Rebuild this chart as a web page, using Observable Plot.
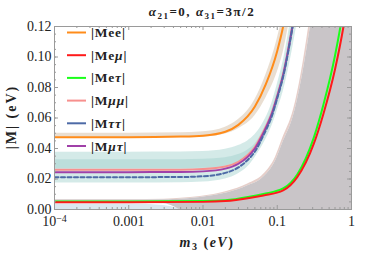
<!DOCTYPE html>
<html><head><meta charset="utf-8">
<script src="https://cdn.jsdelivr.net/npm/d3@7"></script>
<script src="https://cdn.jsdelivr.net/npm/@observablehq/plot@0.6"></script>
<style>body{margin:0;background:#fff} svg{display:block}</style>
</head><body><div id="chart"></div>
<script>
// ---------- data ----------
// |Mee| (orange) and its band
const meeM3  = [1e-4, 1e-3, 0.005, 0.01, 0.02, 0.03, 0.05, 0.07, 0.1, 0.12, 0.15];
const meeVal = [0.0474, 0.0474, 0.0478, 0.0484, 0.051, 0.0555, 0.0675, 0.082, 0.104, 0.12, 0.148];
const meeLo  = [0.0466, 0.0466, 0.047, 0.0474, 0.0495, 0.053, 0.0615, 0.073, 0.09, 0.103, 0.127];
const meeHi  = [0.0500, 0.0500, 0.0503, 0.051, 0.054, 0.059, 0.072, 0.088, 0.112, 0.129, 0.16];

// |Meμ| (red) and |Meτ| (green)
const eM3      = [1e-4, 1e-3, 0.01, 0.02, 0.044, 0.065, 0.12, 0.186, 0.31, 0.42, 0.6, 0.78, 1];
const meMuVal  = [0.0048, 0.0048, 0.005, 0.0055, 0.0077, 0.0092, 0.0125, 0.0212, 0.043, 0.063, 0.092, 0.12, 0.155];
const meTauVal = [0.0053, 0.0053, 0.0055, 0.006, 0.0085, 0.0102, 0.0138, 0.023, 0.047, 0.069, 0.101, 0.132, 0.17];

// |Mμμ| (pink), |Mττ| (blue dashed), |Mμτ| (purple) and their bands
const mM3      = [1e-4, 1e-3, 0.005, 0.01, 0.02, 0.03, 0.04, 0.05, 0.065, 0.085, 0.1, 0.12, 0.16, 0.2, 0.3];
const mmuVal   = [0.026, 0.026, 0.0261, 0.0265, 0.0282, 0.0313, 0.0357, 0.041, 0.051, 0.0635, 0.0745, 0.0885, 0.12, 0.15, 0.22];
const mtautau  = [0.0212, 0.0212, 0.0213, 0.0218, 0.024, 0.0276, 0.0325, 0.038, 0.0485, 0.0615, 0.073, 0.087, 0.119, 0.149, 0.22];
const mmutau   = [0.0245, 0.0245, 0.0246, 0.025, 0.0268, 0.030, 0.0345, 0.040, 0.050, 0.063, 0.074, 0.088, 0.12, 0.15, 0.22];
const bandALo  = [0.0173, 0.0173, 0.0175, 0.018, 0.020, 0.0235, 0.028, 0.034, 0.043, 0.055, 0.065, 0.077, 0.105, 0.132, 0.194];
const bandAHi  = [0.0326, 0.0326, 0.0327, 0.033, 0.034, 0.036, 0.039, 0.043, 0.052, 0.0655, 0.077, 0.0915, 0.125, 0.156, 0.229];
const bandBLo  = [0.0267, 0.0267, 0.0268, 0.027, 0.0285, 0.031, 0.0345, 0.039, 0.0485, 0.061, 0.072, 0.085, 0.116, 0.146, 0.213];
const bandBHi  = [0.0376, 0.0376, 0.0377, 0.038, 0.0395, 0.042, 0.045, 0.049, 0.057, 0.070, 0.082, 0.097, 0.132, 0.165, 0.242];

// grey band (|Meμ|, |Meτ| range) and its thin pinkish rim
const gM3    = [1e-4, 1e-3, 0.003, 0.004, 0.005, 0.0092, 0.0214, 0.04, 0.065, 0.095, 0.117, 0.166, 0.28, 0.5, 1];
const grayLo = [0.0042, 0.0042, 0.0038, 0.002, 0, 0, 0, 0, 0, 0, 0, 0, 0, 0, 0];
const grayHi = [0.0062, 0.0062, 0.0064, 0.0066, 0.0068, 0.0079, 0.011, 0.0155, 0.0212, 0.032, 0.043, 0.0616, 0.12, 0.22, 0.45];
const rimHi  = [0.0066, 0.0066, 0.0068, 0.007, 0.0073, 0.0085, 0.012, 0.0168, 0.023, 0.0345, 0.046, 0.0655, 0.128, 0.235, 0.48];

// light blue band near zero
const lbM3 = [1e-4, 1e-3, 0.0029, 0.004, 0.0053];
const lbHi = [0.0036, 0.0036, 0.0027, 0.0015, 0];

// axes
const xMajor = [1e-4, 1e-3, 1e-2, 1e-1, 1];
const xLabels = ["10", "0.001", "0.01", "0.1", "1"];
const yMajor = [0, 0.02, 0.04, 0.06, 0.08, 0.10, 0.12];
const yLabels = ["0.00", "0.02", "0.04", "0.06", "0.08", "0.10", "0.12"];
const xMinor = [2,3,4,5,6,7,8,9].flatMap(k => [1e-4, 1e-3, 1e-2, 1e-1].map(e => k * e));
const yMinor = d3.range(0, 0.1201, 0.005);

// legend
const legendNames = [["|Me","e","|"], ["|Me","μ","|"], ["|Me","τ","|"], ["|M","μμ","|"], ["|M","ττ","|"], ["|M","μτ","|"]];
const legendColors = ["#ff8c1a", "#ff1a1a", "#1aff1a", "#f7908e", "#4d6aa6", "#a040a8"];

// ---------- build tables ----------
const zip = (xs, cols) => xs.map((m, i) => Object.fromEntries([["m", m], ...Object.entries(cols).map(([k, a]) => [k, a[i]])]));
const mee = zip(meeM3, {v: meeVal, lo: meeLo, hi: meeHi});
const eLines = zip(eM3, {mu: meMuVal, tau: meTauVal});
const mLines = zip(mM3, {mm: mmuVal, tt: mtautau, mt: mmutau, aLo: bandALo, aHi: bandAHi, bLo: bandBLo, bHi: bandBHi});
const gray = zip(gM3, {lo: grayLo, hi: grayHi, rim: rimHi});
const lb = zip(lbM3, {hi: lbHi});

const serif = "'Liberation Serif', 'Times New Roman', serif";
const curve = "monotone-x";
const W = 374, H = 254, ML = 54, MR = 23, MT = 26, MB = 45;
const fw = W - ML - MR, fh = H - MT - MB;
const tickC = "#9a9a9a";

const svg = Plot.plot({
  width: W, height: H,
  marginLeft: ML, marginRight: MR, marginTop: MT, marginBottom: MB,
  style: {fontFamily: serif, fontSize: "14px", background: "#fff"},
  x: {type: "log", domain: [1e-4, 1]},
  y: {domain: [0, 0.12]},
  marks: [
    Plot.areaY(lb, {x: "m", y1: 0, y2: "hi", fill: "#dbe7ef", curve, clip: true}),
    Plot.areaY(gray, {x: "m", y1: "hi", y2: "rim", fill: "#e6cfca", curve, clip: true}),
    Plot.areaY(gray, {x: "m", y1: "lo", y2: "hi", fill: "#c9c5c8", curve, clip: true}),
    Plot.areaY(mLines, {x: "m", y1: "aLo", y2: "aHi", fill: "#9fd0cb", fillOpacity: 0.45, curve, clip: true}),
    Plot.areaY(mLines, {x: "m", y1: "bLo", y2: "bHi", fill: "#9fd0cb", fillOpacity: 0.45, curve, clip: true}),
    Plot.areaY(mee, {x: "m", y1: "lo", y2: "hi", fill: "#e3d6c6", fillOpacity: 0.8, curve, clip: true}),
    Plot.line(mLines, {x: "m", y: "mm", stroke: legendColors[3], strokeWidth: 2, curve, clip: true}),
    Plot.line(mLines, {x: "m", y: "mt", stroke: legendColors[5], strokeWidth: 2, curve, clip: true}),
    Plot.line(mLines, {x: "m", y: "tt", stroke: legendColors[4], strokeWidth: 2, strokeDasharray: "4,2.5", curve, clip: true}),
    Plot.line(mee, {x: "m", y: "v", stroke: legendColors[0], strokeWidth: 2, curve, clip: true}),
    Plot.line(eLines, {x: "m", y: "tau", stroke: legendColors[2], strokeWidth: 2, curve, clip: true}),
    Plot.line(eLines, {x: "m", y: "mu", stroke: legendColors[1], strokeWidth: 2, curve, clip: true}),
    Plot.frame({stroke: tickC}),
    // inward ticks (no text)
    Plot.ruleX(xMajor, {x: d => d, insetTop: fh - 4, stroke: tickC}),
    Plot.ruleX(xMinor, {x: d => d, insetTop: fh - 2, stroke: tickC}),
    Plot.ruleX(xMajor, {x: d => d, insetBottom: fh - 4, stroke: tickC}),
    Plot.ruleX(xMinor, {x: d => d, insetBottom: fh - 2, stroke: tickC}),
    Plot.ruleY(yMajor, {y: d => d, insetRight: fw - 4, stroke: tickC}),
    Plot.ruleY(yMinor, {y: d => d, insetRight: fw - 2, stroke: tickC}),
    Plot.ruleY(yMajor, {y: d => d, insetLeft: fw - 4, stroke: tickC}),
    Plot.ruleY(yMinor, {y: d => d, insetLeft: fw - 2, stroke: tickC}),
    // tick labels
    Plot.axisX(xMajor, {anchor: "bottom", tickSize: 0, tickPadding: 7, fill: "#222", fontSize: 14, label: null,
      tickFormat: d => xLabels[xMajor.indexOf(d)]}),
    Plot.axisY(yMajor, {anchor: "left", tickSize: 0, tickPadding: 3, fill: "#222", fontSize: 14, label: null,
      tickFormat: d => yLabels[yMajor.indexOf(d)]})
  ]
});

const s = d3.select(svg);
// superscript for 10^-4
s.selectAll("text").filter(function() { return this.textContent === "10"; }).each(function() {
  d3.select(this).append("tspan").attr("dy", "-0.4em").attr("font-size", "10px").text("−4");
});

function rich(g, parts, x, y, attrs) {
  const t = g.append("text").attr("x", x).attr("y", y);
  for (const [k, v] of Object.entries(attrs)) t.attr(k, v);
  for (const p of parts) {
    const ts = t.append("tspan").text(p.t);
    if (p.italic) ts.attr("font-style", "italic");
    if (p.size) ts.attr("font-size", p.size);
    if (p.dy) ts.attr("dy", p.dy);
  }
  return t;
}

// title
rich(s, [
  {t: "α", italic: true}, {t: "21", size: "9px", dy: 3}, {t: "=0, ", dy: -3},
  {t: "α", italic: true}, {t: "31", size: "9px", dy: 3}, {t: "=3π/2", dy: -3}
], 202, 16, {"text-anchor": "middle", "font-family": serif, "font-weight": "bold", "font-size": "13px", "letter-spacing": "1.5px", fill: "#222"});

// x label
rich(s, [
  {t: "m", italic: true}, {t: "3", size: "10px", dy: 3}, {t: " (", dy: -3}, {t: "eV", italic: true}, {t: ")"}
], 207, 247, {"text-anchor": "middle", "font-family": serif, "font-weight": "bold", "font-size": "14px", "letter-spacing": "1.5px", fill: "#222"});

// y label
rich(s, [{t: "|M| (eV)"}], 0, 0, {"text-anchor": "middle", "font-family": serif, "font-weight": "bold", "font-size": "14px", "letter-spacing": "2px", fill: "#222",
  transform: "translate(16,117) rotate(-90)"});

// legend
const lg = s.append("g");
legendNames.forEach((parts, i) => {
  const y = 32.5 + i * 22.7;
  lg.append("line").attr("x1", 67).attr("x2", 86).attr("y1", y).attr("y2", y)
    .attr("stroke", legendColors[i]).attr("stroke-width", 2);
  rich(lg, [{t: parts[0]}, {t: parts[1], italic: parts[1] !== "e"}, {t: parts[2]}], 91, y + 4.5,
    {"text-anchor": "start", "font-family": serif, "font-weight": "bold", "font-size": "13.5px", "letter-spacing": "0.8px", fill: "#222"});
});

document.getElementById("chart").appendChild(svg);
</script>
</body></html>
